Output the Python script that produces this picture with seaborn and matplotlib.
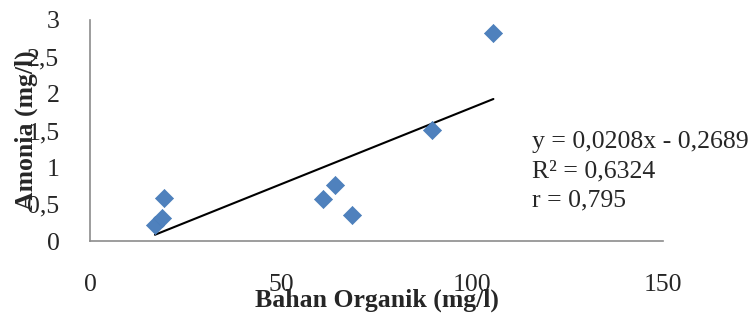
import numpy as np
import pandas as pd
import matplotlib
matplotlib.use("Agg")
import matplotlib.pyplot as plt
import seaborn as sns

# data
bahan_organik = [17.0, 18.8, 19.4, 61.1, 64.1, 68.5, 89.6, 105.6]
amonia = [0.22, 0.31, 0.59, 0.57, 0.76, 0.35, 1.51, 2.83]

# trend line coefficients (from the equation on the chart)
slope = 0.0208
intercept = -0.2689

x_ticks = [0, 50, 100, 150]
y_ticks = [0, 0.5, 1, 1.5, 2, 2.5, 3]
stats_lines = ["y = 0,0208x - 0,2689", "R² = 0,6324", "r = 0,795"]

sns.set_style("white")
plt.rcParams["font.family"] = ["Liberation Serif", "DejaVu Serif"]
fs = 18.5

df = pd.DataFrame({"x": bahan_organik, "y": amonia})
xs = np.array([min(bahan_organik), max(bahan_organik)])
trend = pd.DataFrame({"x": xs, "y": slope * xs + intercept})

fig = plt.figure(figsize=(7.56, 3.15), dpi=100)
ax = fig.add_axes([90 / 756, 74 / 315, 573 / 756, 221 / 315])

sns.lineplot(data=trend, x="x", y="y", ax=ax, color="black", linewidth=1.5)
sns.scatterplot(data=df, x="x", y="y", ax=ax, marker="D", s=85,
                color="#4F81BD", edgecolor="#4A7EBB", linewidth=0.5, zorder=3)

ax.set_xlim(0, 150)
ax.set_ylim(0, 3)
ax.set_xticks(x_ticks)
ax.set_yticks(y_ticks)
ax.set_xticklabels([str(t) for t in x_ticks])
ax.set_yticklabels([f"{t:g}".replace(".", ",") for t in y_ticks])
ax.tick_params(axis="both", length=0, labelsize=fs)
ax.tick_params(axis="x", pad=24)
ax.tick_params(axis="y", pad=22)

for side in ["top", "right"]:
    ax.spines[side].set_visible(False)
for side in ["left", "bottom"]:
    ax.spines[side].set_color("#8C8C8C")
    ax.spines[side].set_linewidth(1.2)

ax.set_xlabel("Bahan Organik (mg/l)", fontsize=fs, fontweight="bold")
ax.set_ylabel("Amonia (mg/l)", fontsize=fs, fontweight="bold")
ax.xaxis.set_label_coords(0.5, -0.27)
ax.xaxis.label.set_va("center")
ax.yaxis.set_label_coords(-0.112, 0.5)
ax.yaxis.label.set_va("center")

# regression stats, positions in pixels from top-left
for i, line in enumerate(stats_lines):
    ax.text(532 / 756, 1 - (142 + 29 * i) / 315, line, transform=fig.transFigure,
            fontsize=fs, va="center", ha="left")

fig.savefig("out.png", dpi=100)
